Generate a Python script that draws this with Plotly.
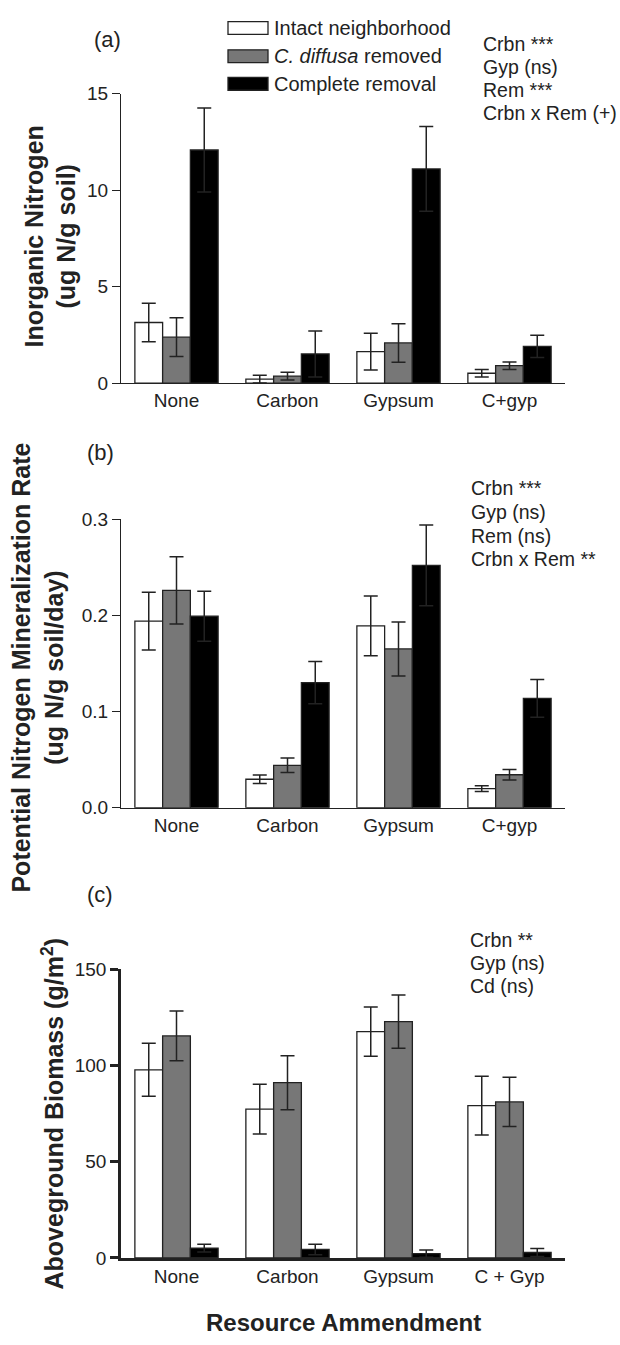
import plotly.graph_objects as go

W, H = 620, 1345

# ---------------- data ----------------
series_names = ["Intact neighborhood", "<i>C. diffusa</i> removed", "Complete removal"]

cats_ab = ["None", "Carbon", "Gypsum", "C+gyp"]
cats_c = ["None", "Carbon", "Gypsum", "C + Gyp"]

# (a) Inorganic nitrogen (ug N/g soil)
a_intact = [3.14, 0.20, 1.63, 0.51]
a_intact_err = [1.00, 0.20, 0.95, 0.19]
a_cdiff = [2.38, 0.36, 2.08, 0.90]
a_cdiff_err = [1.00, 0.20, 1.00, 0.19]
a_complete = [12.08, 1.51, 11.10, 1.90]
a_complete_err = [2.18, 1.19, 2.20, 0.58]

# (b) Potential N mineralization rate (ug N/g soil/day)
b_intact = [0.194, 0.0295, 0.189, 0.0197]
b_intact_err = [0.030, 0.0045, 0.031, 0.0030]
b_cdiff = [0.226, 0.044, 0.165, 0.0342]
b_cdiff_err = [0.035, 0.0075, 0.028, 0.0055]
b_complete = [0.199, 0.130, 0.252, 0.1136]
b_complete_err = [0.026, 0.022, 0.042, 0.0197]

# (c) Aboveground biomass (g/m2)
c_intact = [97.7, 77.3, 117.5, 79.1]
c_intact_err = [13.8, 12.9, 12.8, 15.3]
c_cdiff = [115.3, 91.0, 122.7, 81.0]
c_cdiff_err = [12.9, 14.0, 13.8, 12.8]
c_complete = [5.1, 4.4, 2.2, 2.8]
c_complete_err = [2.0, 2.7, 1.9, 2.1]

stats_a = ["Crbn ***", "Gyp (ns)", "Rem ***", "Crbn x Rem (+)"]
stats_b = ["Crbn ***", "Gyp (ns)", "Rem (ns)", "Crbn x Rem **"]
stats_c = ["Crbn **", "Gyp (ns)", "Cd (ns)"]

ytitle_a = "<b>Inorganic Nitrogen</b><br><b>(ug N/g soil)</b>"
ytitle_b = "<b>Potential Nitrogen Mineralization Rate</b><br><b>(ug N/g soil/day)</b>"
ytitle_c = "<b>Aboveground Biomass (g/m<sup>2</sup>)</b>"
xtitle = "<b>Resource Ammendment</b>"

# ---------------- styles ----------------
FONT = "Liberation Sans, Arial, Helvetica, sans-serif"
TXT = "#222222"
fills = ["#ffffff", "#777777", "#000000"]
OUT = "#222222"


def px(xp):
    return xp / W


def py(yp):
    return 1 - yp / H


fig = go.Figure()

panels = [
    (cats_ab, [(a_intact, a_intact_err), (a_cdiff, a_cdiff_err), (a_complete, a_complete_err)], "x", "y"),
    (cats_ab, [(b_intact, b_intact_err), (b_cdiff, b_cdiff_err), (b_complete, b_complete_err)], "x2", "y2"),
    (cats_c, [(c_intact, c_intact_err), (c_cdiff, c_cdiff_err), (c_complete, c_complete_err)], "x3", "y3"),
]

for cats, series, xa, ya in panels:
    for i, (vals, errs) in enumerate(series):
        fig.add_trace(go.Bar(
            x=cats, y=vals, xaxis=xa, yaxis=ya,
            name=series_names[i], showlegend=False,
            marker=dict(color=fills[i], line=dict(color=OUT, width=1.3)),
            error_y=dict(type="data", array=errs, visible=True,
                         color="#222222", thickness=1.5, width=7),
        ))

xdom = [px(121), px(565)]
ydoms = [
    [py(379), py(85)],
    [py(810.3), py(517.2)],
    [py(1267.7), py(974.3)],
]
yranges = [[0, 15], [0, 0.3], [0, 150]]
ytickvals = [[0, 5, 10, 15], [0, 0.1, 0.2, 0.3], [0, 50, 100, 150]]
yticktext = [["0", "5", "10", "15"], ["0.0", "0.1", "0.2", "0.3"], ["0", "50", "100", "150"]]
lws = [1.3, 1.3, 2.5]

layout = dict(
    width=W, height=H,
    margin=dict(l=0, r=0, t=0, b=0),
    paper_bgcolor="white", plot_bgcolor="white",
    barmode="group", bargap=0.25, bargroupgap=0,
    font=dict(family=FONT, color=TXT, size=19),
)

for k in range(3):
    sx = "" if k == 0 else str(k + 1)
    ys = "y" + sx
    layout["xaxis" + sx] = dict(
        domain=xdom, anchor=ys, type="category", range=[-0.5, 3.5],
        showline=True, linecolor=OUT, linewidth=lws[k], ticks="",
        showgrid=False, zeroline=False,
        tickfont=dict(size=19, color=TXT, family=FONT),
        fixedrange=True,
    )
    layout["yaxis" + sx] = dict(
        domain=ydoms[k], anchor="x" + sx, range=yranges[k],
        tickvals=ytickvals[k], ticktext=yticktext[k],
        showline=True, linecolor=OUT, linewidth=lws[k],
        ticks="outside", ticklen=8, tickwidth=lws[k], tickcolor=OUT,
        showgrid=False, zeroline=False,
        tickfont=dict(size=19, color=TXT, family=FONT),
        fixedrange=True,
    )

fig.update_layout(**layout)

ann = []
shapes = []

# panel letters
for lab, xx, yy in [("(a)", 107, 30), ("(b)", 100, 450), ("(c)", 100, 899)]:
    ann.append(dict(text=lab, x=px(xx), y=py(yy), xref="paper", yref="paper",
                    showarrow=False, xanchor="center", yanchor="middle",
                    font=dict(size=22, color=TXT, family=FONT)))

# y titles
for t, xx, yy in [(ytitle_a, 50, 230), (ytitle_b, 38, 668), (ytitle_c, 53, 1122)]:
    ann.append(dict(text=t, x=px(xx), y=py(yy), xref="paper", yref="paper",
                    showarrow=False, xanchor="center", yanchor="middle",
                    textangle=-90, align="center",
                    font=dict(size=25, color=TXT, family=FONT)))

# x title
ann.append(dict(text=xtitle, x=px(343), y=py(1333), xref="paper", yref="paper",
                showarrow=False, xanchor="center", yanchor="middle",
                font=dict(size=24, color=TXT, family=FONT)))

# stats text
for lines, x0, ycs in [(stats_a, 481, [35, 58.3, 81.7, 104.5]),
                       (stats_b, 469, [486, 510, 534, 558]),
                       (stats_c, 468, [944.5, 968, 991.7])]:
    for line, yc in zip(lines, ycs):
        ann.append(dict(text=line, x=px(x0), y=py(yc), xref="paper", yref="paper",
                        showarrow=False, xanchor="left", yanchor="middle",
                        font=dict(size=19.5, color=TXT, family=FONT)))

# legend (manual)
for i, (name, yc) in enumerate(zip(series_names, [18.3, 47, 75])):
    shapes.append(dict(type="rect", xref="paper", yref="paper",
                       x0=px(228), x1=px(268), y0=py(yc + 6.5), y1=py(yc - 6.5),
                       fillcolor=fills[i], line=dict(color=OUT, width=1.3)))
    ann.append(dict(text=name, x=px(272), y=py(yc), xref="paper", yref="paper",
                    showarrow=False, xanchor="left", yanchor="middle",
                    font=dict(size=20, color=TXT, family=FONT)))

fig.update_layout(annotations=ann, shapes=shapes)

fig.write_html("out.html")
